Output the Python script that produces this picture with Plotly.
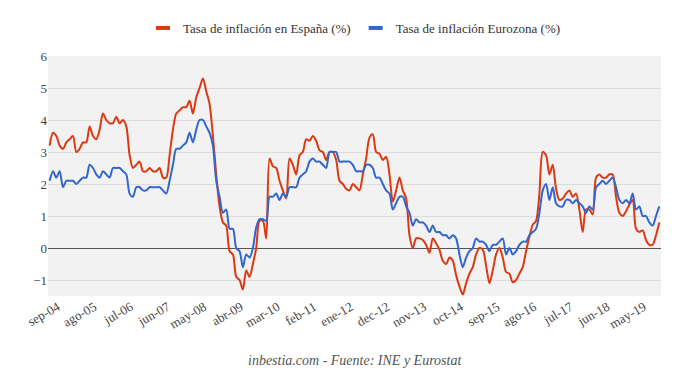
import plotly.graph_objects as go

month_abbr = ["ene", "feb", "mar", "abr", "may", "jun", "jul", "ago", "sep", "oct", "nov", "dec"]
start_year, start_month = 2004, 9   # sep-04
n_points = 184                        # through dec-19

categories = []
for k in range(n_points):
    m = (start_month - 1 + k) % 12
    y = start_year + (start_month - 1 + k) // 12
    categories.append(f"{month_abbr[m]}-{str(y)[2:]}")

espana = [
    3.2, 3.6, 3.5, 3.2,
    3.1, 3.3, 3.4, 3.5, 3.0, 3.1, 3.3, 3.3, 3.8, 3.5, 3.4, 3.7,
    4.2, 4.0, 3.9, 3.9, 4.1, 3.9, 4.0, 3.8, 2.9, 2.5, 2.6, 2.7,
    2.4, 2.4, 2.5, 2.4, 2.4, 2.5, 2.2, 2.2, 2.9, 3.7, 4.2, 4.3,
    4.4, 4.4, 4.6, 4.2, 4.7, 5.0, 5.3, 4.9, 4.5, 3.5, 2.3, 1.3,
    0.8, 0.7, -0.1, -0.2, -0.9, -1.0, -1.3, -0.7, -0.9, -0.5, 0.0, 0.85,
    0.85, 0.3, 2.8, 2.55, 2.5, 2.1, 1.8, 1.55, 2.8, 2.6, 2.3, 2.9,
    3.0, 3.4, 3.35, 3.5, 3.35, 3.05, 3.0, 2.75, 3.0, 3.0, 2.75, 2.1,
    2.0, 1.85, 1.8, 2.0, 1.9, 1.8, 2.3, 2.8, 3.45, 3.55, 3.0, 2.95,
    2.75, 2.85, 2.3, 1.45, 1.8, 2.2, 1.8, 1.55, 0.4, 0.0, 0.3, 0.3,
    0.25, 0.1, -0.15, 0.3, 0.15, -0.05, -0.4, -0.5, -0.3, -0.4, -0.85, -1.2,
    -1.45, -1.1, -0.8, -0.6, -0.2, 0.0, -0.05, -0.55, -1.1, -0.7, -0.2, 0.0,
    -0.3, -0.75, -0.8, -1.07, -1.0, -0.8, -0.6, -0.1, 0.35, 0.73, 0.85, 1.7,
    3.0, 2.9, 2.3, 2.6, 1.85, 1.5, 1.55, 1.7, 1.8, 1.6, 1.7, 1.2,
    0.5, 1.2, 1.2, 1.05, 2.2, 2.3, 2.2, 2.2, 2.3, 2.3, 1.6, 1.1,
    1.0, 1.15, 1.35, 1.5, 0.6, 0.5, 0.55, 0.25, 0.1, 0.1, 0.4, 0.8,
]

eurozona = [
    2.1, 2.4, 2.2, 2.4,
    1.9, 2.1, 2.1, 2.1, 2.0, 2.1, 2.2, 2.2, 2.6, 2.5, 2.3, 2.2,
    2.4, 2.3, 2.2, 2.5, 2.5, 2.5, 2.4, 2.3, 1.7, 1.6, 1.9, 1.9,
    1.8, 1.8, 1.9, 1.9, 1.9, 1.9, 1.8, 1.7, 2.1, 2.6, 3.1, 3.1,
    3.2, 3.3, 3.6, 3.3, 3.7, 4.0, 4.0, 3.8, 3.6, 3.2, 2.1, 1.6,
    1.1, 1.2, 0.6, 0.6, 0.0, -0.1, -0.6, -0.2, -0.3, 0.0, 0.65, 0.9,
    0.9, 0.85, 1.6, 1.6, 1.7, 1.5, 1.7, 1.6, 1.9, 1.9, 1.9, 2.2,
    2.3, 2.4, 2.7, 2.8, 2.7, 2.7, 2.6, 2.5, 3.0, 3.0, 3.0, 2.7,
    2.7, 2.7, 2.7, 2.6, 2.4, 2.4, 2.4, 2.6, 2.6, 2.5, 2.2, 2.2,
    2.0, 1.8, 1.7, 1.2, 1.4, 1.6, 1.6, 1.3, 1.1, 0.7, 0.9, 0.8,
    0.8, 0.7, 0.5, 0.7, 0.5, 0.5, 0.4, 0.4, 0.3, 0.4, 0.3, -0.2,
    -0.6, -0.3, -0.1, 0.0, 0.3, 0.2, 0.2, 0.1, -0.1, 0.1, 0.1, 0.2,
    0.3, -0.2, 0.0, -0.2, -0.1, 0.1, 0.2, 0.2, 0.4, 0.5, 0.6, 1.1,
    1.8, 2.0, 1.5, 1.9, 1.4, 1.3, 1.3, 1.5, 1.5, 1.4, 1.5, 1.4,
    1.3, 1.1, 1.3, 1.2, 1.9, 2.0, 2.1, 2.0, 2.1, 2.2, 1.9, 1.5,
    1.4, 1.5, 1.4, 1.7, 1.2, 1.3, 1.0, 1.0, 0.8, 0.7, 1.0, 1.3,
]

series_names = ["Tasa de inflación en España (%)", "Tasa de inflación Eurozona (%)"]
series_colors = ["#dc3912", "#3366cc"]

tick_labels = categories[::11]
y_ticks = [-1, 0, 1, 2, 3, 4, 5, 6]

FONT = "'Liberation Serif', 'DejaVu Serif', 'Times New Roman', serif"

# page body has an 8px default margin: compensate so the chart lands in the window
OFF = 8
W, H = 680 - OFF, 389 - OFF
ML, MR, MT, MB = 48 - OFF, 19, 56 - OFF, 93
plot_h = H - MT - MB

def paper_y(px_from_top):
    return (H - MB - (px_from_top - OFF)) / plot_h

fig = go.Figure()
for vals, name, color in zip([espana, eurozona], series_names, series_colors):
    fig.add_trace(go.Scatter(
        x=categories, y=vals, mode="lines", name=name, showlegend=False,
        line=dict(color=color, width=2, shape="spline", smoothing=0.8),
    ))
# legend entries with short thick swatches (like the original)
for name, color in zip(series_names, series_colors):
    fig.add_trace(go.Scatter(
        x=[None], y=[None], mode="markers", name=name, showlegend=True,
        marker=dict(symbol="line-ew", size=10, color=color,
                    line=dict(width=4, color=color)),
        hoverinfo="skip",
    ))

fig.update_layout(
    width=W, height=H,
    margin=dict(l=ML, r=MR, t=MT, b=MB, autoexpand=False),
    paper_bgcolor="white",
    plot_bgcolor="#f2f2f2",
    font=dict(family=FONT, size=13, color="#444444"),
    showlegend=True,
    legend=dict(
        orientation="h", x=0.5, xanchor="center",
        y=paper_y(28), yanchor="middle",
        font=dict(family=FONT, size=13, color="#333333"),
        itemwidth=30, bgcolor="rgba(0,0,0,0)",
    ),
    xaxis=dict(
        type="category",
        categoryorder="array", categoryarray=categories,
        range=[-0.5, n_points - 0.5],
        tickmode="array", tickvals=tick_labels, ticktext=tick_labels,
        tickangle=-30, ticklabelshift=8,
        showgrid=False, zeroline=False, showline=False,
        ticks="", tickfont=dict(family=FONT, size=13, color="#444444"),
    ),
    yaxis=dict(
        range=[-1.5, 6.0],
        tickmode="array", tickvals=y_ticks,
        showgrid=True, gridcolor="#dcdcdc", gridwidth=1,
        zeroline=True, zerolinecolor="#555555", zerolinewidth=1,
        showline=False, ticks="",
        tickfont=dict(family=FONT, size=13, color="#444444"),
    ),
    annotations=[dict(
        text="<i>inbestia.com - Fuente: INE y Eurostat</i>",
        x=0.5, xref="paper", xanchor="center",
        y=paper_y(360), yref="paper", yanchor="middle", showarrow=False,
        font=dict(family=FONT, size=14, color="#555555"),
    )],
)

fig.write_html("out.html")
